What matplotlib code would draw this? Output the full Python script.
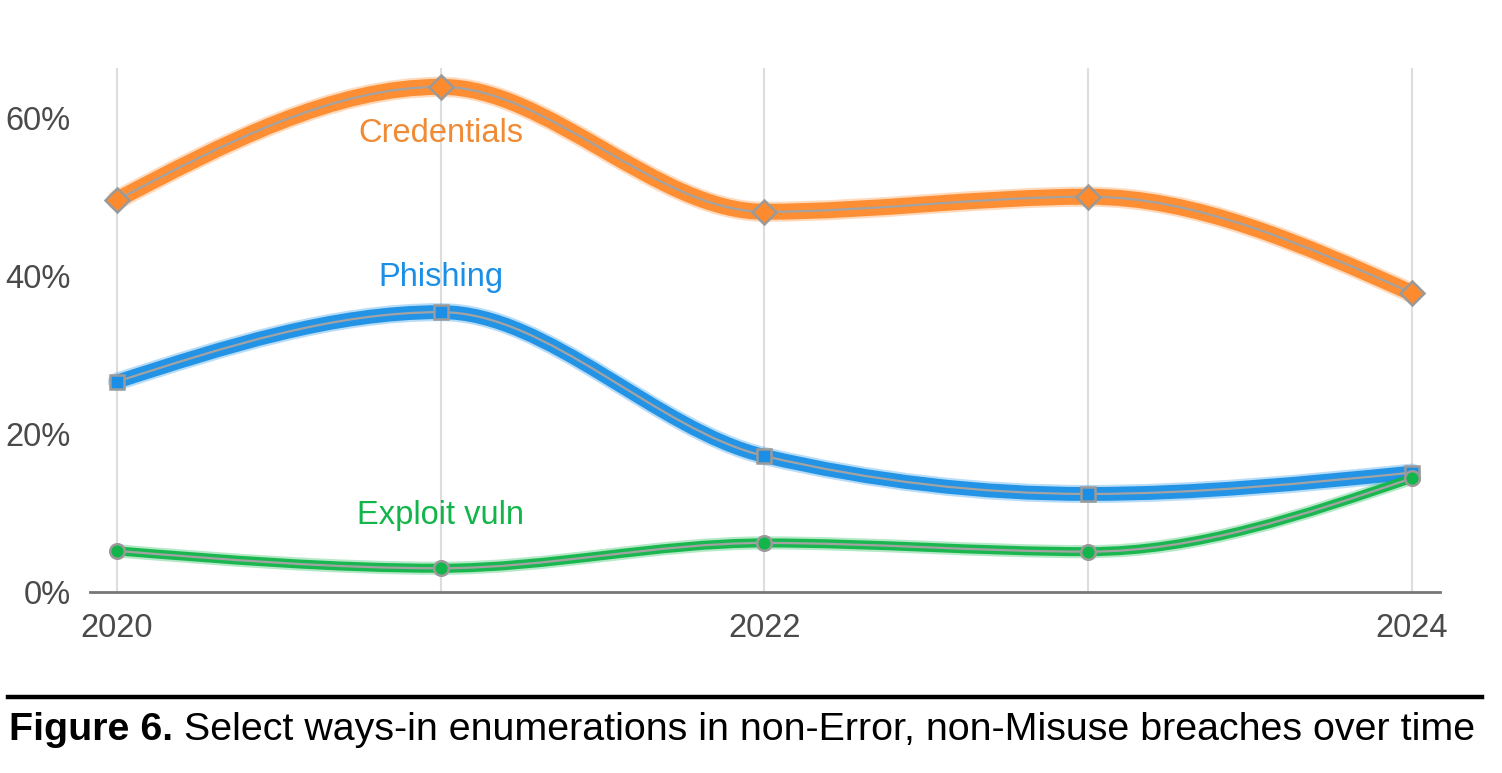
import numpy as np
import matplotlib
matplotlib.use("Agg")
import matplotlib.pyplot as plt
from matplotlib.path import Path
from matplotlib.patches import PathPatch
from matplotlib.lines import Line2D

plt.rcParams['font.family'] = ['Liberation Sans', 'DejaVu Sans']

# data (share of breaches, %)
years = [2020, 2021, 2022, 2023, 2024]
credentials = [49.6, 63.9, 48.1, 50.0, 37.8]
phishing = [26.6, 35.4, 17.2, 12.4, 15.1]
exploit_vuln = [5.2, 3.0, 6.2, 5.1, 14.4]

tick_years = [2020, 2022, 2024]
y_ticks = [0, 20, 40, 60]
caption_bold = "Figure 6."
caption_rest = " Select ways-in enumerations in non-Error, non-Misuse breaches over time"


def monotone_path(x, y):
    # d3 curveMonotoneX as cubic bezier segments
    x = np.asarray(x, float)
    y = np.asarray(y, float)
    n = len(x)
    h = np.diff(x)
    s = np.diff(y) / h
    t = np.zeros(n)
    for i in range(1, n - 1):
        p = (s[i - 1] * h[i] + s[i] * h[i - 1]) / (h[i - 1] + h[i])
        t[i] = (np.sign(s[i - 1]) + np.sign(s[i])) * min(abs(s[i - 1]), abs(s[i]), 0.5 * abs(p))
    t[0] = (3 * s[0] - t[1]) / 2
    t[-1] = (3 * s[-1] - t[-2]) / 2
    verts = [(x[0], y[0])]
    codes = [Path.MOVETO]
    for i in range(n - 1):
        dx = h[i] / 3
        verts += [(x[i] + dx, y[i] + dx * t[i]),
                  (x[i + 1] - dx, y[i + 1] - dx * t[i + 1]),
                  (x[i + 1], y[i + 1])]
        codes += [Path.CURVE4] * 3
    return Path(verts, codes)


fig = plt.figure(figsize=(15.02, 7.73), dpi=100)
ax = fig.add_axes([0.0599, 0.2342, 0.8988, 0.678])

series = [
    (credentials, '#fd8a2c', 'D', 12, 11.5),
    (phishing, '#1b8fe6', 's', 10, 10),
    (exploit_vuln, '#12b54a', 'o', 10.5, 6.5),
]

for vals, col, mk, ms, bw in series:
    path = monotone_path(years, vals)
    ax.add_patch(PathPatch(path, fill=False, edgecolor=col, lw=bw + 3, alpha=0.3,
                           capstyle='round', zorder=2))
    ax.add_patch(PathPatch(path, fill=False, edgecolor=col, lw=bw, alpha=0.95,
                           capstyle='round', zorder=3))
    ax.add_patch(PathPatch(path, fill=False, edgecolor='#a3a3a3', lw=1.6, zorder=4))
    ax.plot(years, vals, ls='none', marker=mk, ms=ms, mfc=col, mec='#9a9a9a',
            mew=1.8, zorder=5)

ax.text(2021, 58.0, "Credentials", color='#f08a34', fontsize=23.5, ha='center', va='center')
ax.text(2021, 39.8, "Phishing", color='#1b8fe6', fontsize=23.5, ha='center', va='center')
ax.text(2021, 9.7, "Exploit vuln", color='#12b54a', fontsize=23.5, ha='center', va='center')

ax.set_xlim(2019.917, 2024.086)
ax.set_ylim(0, 66.3)
for yr in years:
    ax.axvline(yr, color='#dddddd', lw=1.5, zorder=1)
ax.set_xticks(tick_years)
ax.set_xticklabels([str(v) for v in tick_years])
ax.set_yticks(y_ticks)
ax.set_yticklabels([f"{v}%" for v in y_ticks])
ax.tick_params(axis='both', length=0, labelsize=23.5, labelcolor='#4a4a4a')
ax.tick_params(axis='x', pad=15)
ax.tick_params(axis='y', pad=14)
for side in ['top', 'right', 'left']:
    ax.spines[side].set_visible(False)
ax.spines['bottom'].set_color('#777777')
ax.spines['bottom'].set_linewidth(2)

# caption with rule above
fig.add_artist(Line2D([0.005, 0.987], [0.0983, 0.0983], color='black', lw=3.2))
t1 = fig.text(0.006, 0.043, caption_bold, fontsize=28.4, fontweight='bold', va='baseline')
fig.canvas.draw()
bb = t1.get_window_extent(fig.canvas.get_renderer())
fig.text(bb.x1 / fig.bbox.width, 0.043, caption_rest, fontsize=28.4, va='baseline')

fig.savefig('out.png', dpi=100)
